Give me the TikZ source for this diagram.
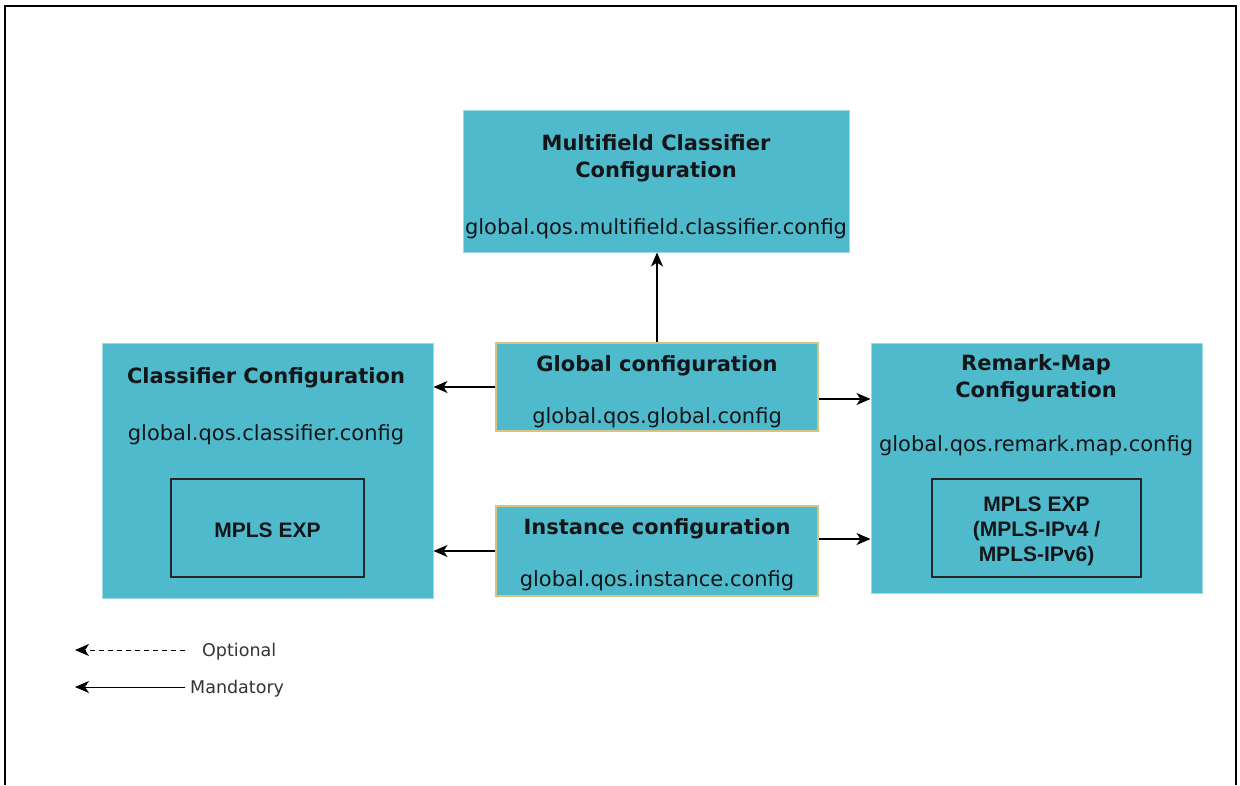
\documentclass[tikz,border=0pt]{standalone}
\usepackage{fontspec}
\setmainfont{DejaVu Sans}
\newfontfamily\arialfont{Liberation Sans}
\usetikzlibrary{arrows.meta}
\definecolor{boxfill}{RGB}{80,186,205}
\definecolor{boxedge}{RGB}{160,215,226}
\definecolor{tanedge}{RGB}{214,196,128}
\definecolor{txt}{RGB}{18,22,24}
\tikzset{
  bigbox/.style={draw=boxedge, fill=boxfill, line width=1pt, rectangle, inner sep=0pt},
  cfgbox/.style={draw=tanedge, fill=boxfill, line width=1.5pt, rectangle, inner sep=0pt},
  innerbox/.style={draw=black!85, line width=1.2pt, rectangle, inner sep=0pt},
  innertxt/.style={align=center, inner sep=0pt,
     text=txt, font=\arialfont\bfseries\fontsize{21}{25}\selectfont},
  ttl/.style={text=txt, font=\bfseries\fontsize{21}{27}\selectfont, align=center, inner sep=0pt},
  cfg/.style={text=txt, font=\fontsize{21}{27}\selectfont, inner sep=0pt},
  leg/.style={text=black!80, font=\fontsize{17.5}{21}\selectfont, inner sep=0pt, anchor=west},
  arr/.style={-{Stealth[length=14pt,width=12pt,inset=4pt]}, line width=1.4pt, black},
}
\begin{document}
\begin{tikzpicture}[x=1pt,y=-1pt]
\useasboundingbox (0,0) rectangle (1240,785);
% frame
\coordinate (fbl) at (5,785);
\coordinate (ftl) at (5,6);
\coordinate (ftr) at (1236,6);
\coordinate (fbr) at (1236,785);
\draw[line width=1.5pt] (fbl) -- (ftl) -- (ftr) -- (fbr);

% boxes
\node[bigbox, minimum width=386pt, minimum height=142pt] (mf) at (656,181) {};
\node[bigbox, minimum width=331pt, minimum height=255pt] (cls) at (267.5,470.5) {};
\node[bigbox, minimum width=331pt, minimum height=250pt] (rem) at (1036.5,468) {};
\node[cfgbox, minimum width=322pt, minimum height=88pt] (glob) at (657,387) {};
\node[cfgbox, minimum width=322pt, minimum height=90pt] (inst) at (657,551) {};

% texts
\node[ttl] (mft) at (656,158) {Multifield Classifier\\Configuration};
\node[cfg] (mfc) at (656,229) {global.qos.multifield.classifier.config};
\node[ttl] (clst) at (266,378) {Classifier Configuration};
\node[cfg] (clsc) at (266,435) {global.qos.classifier.config};
\node[ttl] (globt) at (657,366) {Global configuration};
\node[cfg] (globc) at (657,418) {global.qos.global.config};
\node[ttl] (instt) at (657,529) {Instance configuration};
\node[cfg] (instc) at (657,581) {global.qos.instance.config};
\node[ttl] (remt) at (1036,378) {Remark-Map\\Configuration};
\node[cfg] (remc) at (1036,446) {global.qos.remark.map.config};

% inner boxes
\node[innerbox, minimum width=193pt, minimum height=98pt] (cin) at (267.5,528) {};
\node[innerbox, minimum width=209pt, minimum height=98pt] (rin) at (1036.5,528) {};
\node[innertxt] (cint) at (267.5,530) {MPLS EXP};
\node[innertxt] (rint) at (1036.5,531) {MPLS EXP\\(MPLS-IPv4 /\\MPLS-IPv6)};

% connectors
\coordinate (ge) at ([yshift=-12pt]glob.east);
\coordinate (ie) at ([yshift=12pt]inst.east);
\draw[arr] (glob.north) -- (glob.north |- mf.south);
\draw[arr] (glob.west) -- (cls.east |- glob.west);
\draw[arr] (inst.west) -- (cls.east |- inst.west);
\draw[arr] (ge) -- (rem.west |- ge);
\draw[arr] (ie) -- (rem.west |- ie);

% legend
\coordinate (o1) at (185,650);
\coordinate (o2) at (75,650);
\coordinate (m1) at (185,687);
\coordinate (m2) at (75,687);
\draw[arr, line width=1pt, dash pattern=on 5pt off 4pt] (o1) -- (o2);
\draw[arr, line width=1pt] (m1) -- (m2);
\node[leg] (optl) at (202,652) {Optional};
\node[leg] (mand) at (190,689) {Mandatory};
\end{tikzpicture}
\end{document}
